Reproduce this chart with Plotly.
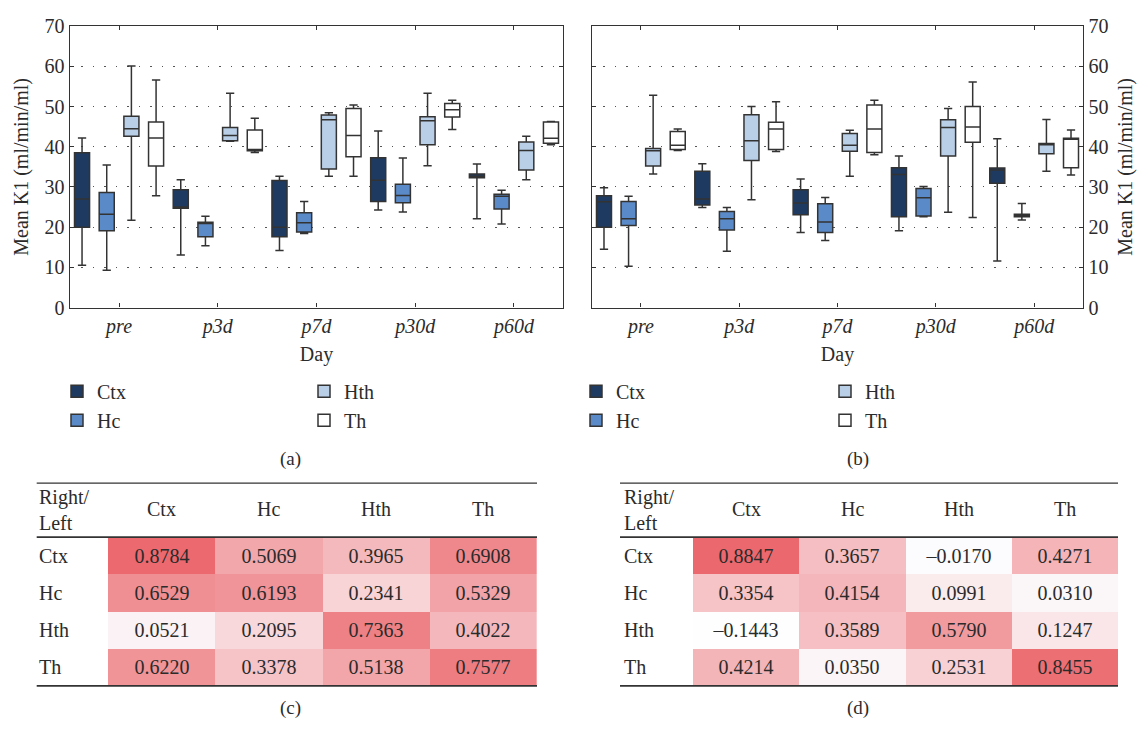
import plotly.graph_objects as go

W, H = 1146, 735

days = ["pre", "p3d", "p7d", "p30d", "p60d"]
day_labels = ["<i>pre</i>", "<i>p3d</i>", "<i>p7d</i>", "<i>p30d</i>", "<i>p60d</i>"]
regions = ["Ctx", "Hc", "Hth", "Th"]
region_colors = ["#1e3a60", "#5b8ac8", "#b9cee7", "#ffffff"]

# Box statistics per region and day (panel a)
a_ctx = {"lo": [10.5, 13.1, 14.2, 24.3, 22.1], "q1": [20.0, 24.7, 17.6, 26.4, 32.3],
         "med": [27.0, 25.0, 20.0, 31.7, 32.7], "q3": [38.5, 29.3, 31.6, 37.3, 33.2],
         "hi": [42.2, 31.8, 32.7, 43.9, 35.7]}
a_hc = {"lo": [9.3, 15.4, 18.4, 23.8, 20.8], "q1": [19.1, 17.6, 18.8, 26.1, 24.5],
        "med": [23.2, 20.9, 21.1, 27.9, 27.7], "q3": [28.6, 21.2, 23.6, 30.7, 28.2],
        "hi": [35.5, 22.7, 26.4, 37.2, 29.2]}
a_hth = {"lo": [21.7, 41.4, 32.7, 35.3, 31.8], "q1": [42.6, 41.5, 34.5, 40.5, 34.2],
         "med": [44.5, 42.8, 46.7, 46.5, 39.1], "q3": [47.6, 44.8, 47.9, 47.5, 41.2],
         "hi": [60.1, 53.3, 48.5, 53.3, 42.6]}
a_th = {"lo": [27.8, 38.6, 32.7, 44.3, 40.5], "q1": [35.2, 39.0, 37.5, 47.4, 40.9],
        "med": [42.2, 39.3, 42.8, 49.2, 42.1], "q3": [46.2, 44.2, 49.5, 50.8, 46.2],
        "hi": [56.6, 47.1, 50.4, 51.6, 46.3]}

# Box statistics per region and day (panel b)
b_ctx = {"lo": [14.5, 24.9, 18.7, 19.1, 11.6], "q1": [20.0, 25.5, 23.1, 22.6, 30.9],
         "med": [26.3, 27.0, 26.0, 33.1, 34.2], "q3": [27.8, 33.9, 29.3, 34.8, 34.7],
         "hi": [29.8, 35.8, 32.0, 37.7, 42.0]}
b_hc = {"lo": [10.3, 14.0, 16.7, 22.6, 21.8], "q1": [20.4, 19.3, 18.7, 22.8, 22.6],
        "med": [22.1, 22.1, 21.3, 27.3, 23.0], "q3": [26.4, 23.9, 25.8, 29.6, 23.2],
        "hi": [27.7, 24.9, 27.4, 30.1, 25.9]}
b_hth = {"lo": [33.2, 26.8, 32.7, 23.7, 33.9], "q1": [35.2, 36.6, 38.9, 37.7, 38.3],
         "med": [39.0, 41.5, 40.4, 44.8, 40.5], "q3": [39.6, 48.0, 43.3, 46.7, 40.8],
         "hi": [52.8, 50.0, 44.1, 49.5, 46.8]}
b_th = {"lo": [39.1, 38.8, 38.0, 22.4, 33.0], "q1": [39.3, 39.3, 38.6, 41.1, 34.8],
        "med": [40.4, 44.4, 44.4, 44.9, 42.1], "q3": [43.8, 46.1, 50.4, 50.0, 42.1],
        "hi": [44.4, 51.2, 51.6, 56.1, 44.2]}

# Right/Left correlation tables (rows: Ctx, Hc, Hth, Th)
corr_c = [[0.8784, 0.5069, 0.3965, 0.6908],
          [0.6529, 0.6193, 0.2341, 0.5329],
          [0.0521, 0.2095, 0.7363, 0.4022],
          [0.6220, 0.3378, 0.5138, 0.7577]]
corr_d = [[0.8847, 0.3657, -0.0170, 0.4271],
          [0.3354, 0.4154, 0.0991, 0.0310],
          [-0.1443, 0.3589, 0.5790, 0.1247],
          [0.4214, 0.0350, 0.2531, 0.8455]]

SERIF = "Liberation Serif"
INK = "#2b2b2b"


def px_x(x):
    return x / W


def px_y(y):
    return 1 - y / H


fig = go.Figure()

panels = [
    ("x", "y", [a_ctx, a_hc, a_hth, a_th], ["legend", "legend", "legend2", "legend2"]),
    ("x2", "y2", [b_ctx, b_hc, b_hth, b_th], ["legend3", "legend3", "legend4", "legend4"]),
]
for xa, ya, stats, legs in panels:
    for name, color, st, leg in zip(regions, region_colors, stats, legs):
        fig.add_trace(go.Box(
            x=days, q1=st["q1"], median=st["med"], q3=st["q3"],
            lowerfence=st["lo"], upperfence=st["hi"],
            name=name, offsetgroup=name, fillcolor=color,
            line=dict(color="#333333", width=1.5),
            whiskerwidth=0.55, boxpoints=False, xaxis=xa, yaxis=ya,
            legend=leg, legendgroup=xa + name, showlegend=True,
            hoverinfo="skip",
        ))

# Heatmap tables
for xa, ya, z in [("x3", "y3", corr_c), ("x4", "y4", corr_d)]:
    text = [[f"{v:.4f}".replace("-", "\u2013") for v in row] for row in z]
    fig.add_trace(go.Heatmap(
        z=z, x=regions, y=regions, text=text, texttemplate="%{text}",
        textfont=dict(family=SERIF, size=20, color=INK),
        zmin=-0.2, zmax=1.0,
        colorscale=[[0.0, "#ffffff"], [0.1667, "#fcfbfd"], [1.0, "#e9555b"]],
        showscale=False, xaxis=xa, yaxis=ya, hoverinfo="skip",
    ))

tick_font = dict(family=SERIF, size=20, color=INK)
common_x = dict(
    type="category", categoryorder="array", categoryarray=days,
    tickmode="array", tickvals=days, ticktext=day_labels,
    range=[-0.5, 4.5], showline=True, linecolor="#333333", linewidth=1.3,
    mirror="ticks", ticks="inside", ticklen=4, tickcolor="#333333",
    showgrid=False, zeroline=False, tickfont=tick_font,
    title=dict(text="Day", font=tick_font, standoff=10),
)
common_y = dict(
    range=[0, 70], dtick=10, showline=True, linecolor="#333333", linewidth=1.3,
    mirror="ticks", ticks="inside", ticklen=4, tickcolor="#333333",
    showgrid=True, gridcolor="#555555", gridwidth=1.3, griddash="1.5px,10px",
    zeroline=False, tickfont=tick_font,
    title=dict(text="Mean K1 (ml/min/ml)", font=tick_font, standoff=10),
)

hidden = dict(showline=False, showgrid=False, zeroline=False, showticklabels=False, ticks="")

fig.update_layout(
    width=W, height=H, margin=dict(l=0, r=0, t=0, b=0),
    paper_bgcolor="white", plot_bgcolor="white",
    boxmode="group", boxgap=0.0, boxgroupgap=0.39,
    font=dict(family=SERIF, color=INK),
    xaxis=dict(domain=[px_x(69.7), px_x(563.3)], anchor="y", **common_x),
    yaxis=dict(domain=[px_y(305.7), px_y(15.7)], anchor="x", **common_y),
    xaxis2=dict(domain=[px_x(591.7), px_x(1083.3)], anchor="y2", **common_x),
    yaxis2=dict(domain=[px_y(305.7), px_y(15.7)], anchor="x2", side="right", **common_y),
    xaxis3=dict(domain=[px_x(108), px_x(536.7)], anchor="y3", **hidden),
    yaxis3=dict(domain=[px_y(695.7), px_y(542.3)], anchor="x3", autorange="reversed", **hidden),
    xaxis4=dict(domain=[px_x(693), px_x(1118)], anchor="y4", **hidden),
    yaxis4=dict(domain=[px_y(695.7), px_y(542.3)], anchor="x4", autorange="reversed", **hidden),
)

legend_style = dict(font=dict(family=SERIF, size=20, color=INK), bgcolor="rgba(0,0,0,0)",
                    traceorder="grouped", tracegroupgap=0, yanchor="top", xanchor="left",
                    itemclick=False, itemdoubleclick=False)
fig.update_layout(
    legend=dict(x=px_x(57), y=px_y(372), **legend_style),
    legend2=dict(x=px_x(304), y=px_y(372), **legend_style),
    legend3=dict(x=px_x(576), y=px_y(372), **legend_style),
    legend4=dict(x=px_x(825), y=px_y(372), **legend_style),
)

# Table rules
for x0, x1 in [(36.7, 537), (620, 1118)]:
    for yy, wdt in [(486.7, 1.3), (542.3, 1.8), (695.7, 1.8)]:
        fig.add_shape(type="line", xref="paper", yref="paper",
                      x0=px_x(x0), x1=px_x(x1), y0=px_y(yy), y1=px_y(yy),
                      line=dict(color="#333333", width=wdt))

ann = []
for xa, ya, xl in [("x3", "y3", 37), ("x4", "y4", 622)]:
    ann.append(dict(text="Right/<br>Left", xref="paper", yref="paper", x=px_x(xl), y=px_y(514),
                    xanchor="left", yanchor="middle", align="left", showarrow=False,
                    font=dict(family=SERIF, size=20, color=INK)))
    for r in regions:
        ann.append(dict(text=r, xref=xa, yref="paper", x=r, y=px_y(513), xanchor="center",
                        yanchor="middle", showarrow=False,
                        font=dict(family=SERIF, size=20, color=INK)))
        ann.append(dict(text=r, xref="paper", yref=ya, x=px_x(xl), y=r, xanchor="left",
                        yanchor="middle", showarrow=False,
                        font=dict(family=SERIF, size=20, color=INK)))

for lab, cx, cy in [("(a)", 290, 462), ("(b)", 858, 462), ("(c)", 290, 718), ("(d)", 858, 718)]:
    ann.append(dict(text=lab, xref="paper", yref="paper", x=px_x(cx), y=px_y(cy),
                    xanchor="center", yanchor="middle", showarrow=False,
                    font=dict(family=SERIF, size=19, color=INK)))

fig.update_layout(annotations=ann)

fig.write_html("out.html")
